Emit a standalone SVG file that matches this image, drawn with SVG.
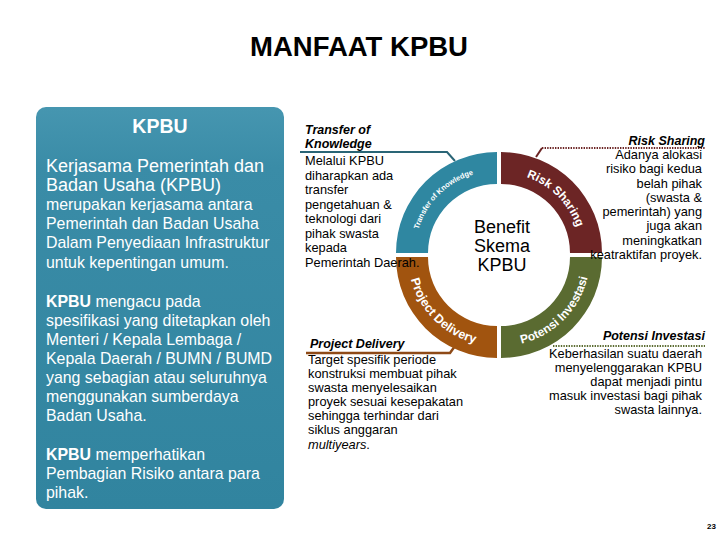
<svg xmlns="http://www.w3.org/2000/svg" width="720" height="540" viewBox="0 0 720 540">
<defs>
<linearGradient id="panelGrad" x1="0" y1="0" x2="0" y2="1">
<stop offset="0" stop-color="#4696B0"/>
<stop offset="0.15" stop-color="#3A8CA7"/>
<stop offset="1" stop-color="#31849F"/>
</linearGradient>
<path id="arcTeal" d="M 417 255 A 82 82 0 0 1 499 173"/>
<path id="arcRed" d="M 499 175 A 80 80 0 0 1 579 255"/>
<path id="arcBrown" d="M 410 255 A 89 89 0 0 0 499 344"/>
<path id="arcGreen" d="M 499 344 A 89 89 0 0 0 588 255"/>
</defs>
<style>
.title{font-family:"Liberation Sans",Arial,sans-serif;font-weight:bold;font-size:27.5px;fill:#000}
.pnl{font-family:"Liberation Sans",Arial,sans-serif;fill:#fff}
.pnlH{font-size:18px}
.pnlB{font-size:15.9px}
.b{font-weight:bold}
.hdr{font-family:"Liberation Sans",Arial,sans-serif;font-weight:bold;font-style:italic;font-size:12.5px;fill:#000}
.body{font-family:"Liberation Sans",Arial,sans-serif;font-size:12.8px;fill:#000}
.ctr{font-family:"Liberation Sans",Arial,sans-serif;font-size:18px;fill:#000;text-anchor:middle}
.seg{font-family:"Liberation Sans",Arial,sans-serif;font-weight:bold;fill:#fff}
.r{text-anchor:end}
</style>
<rect width="720" height="540" fill="#fff"/>

<text class="title" x="359" y="56" text-anchor="middle">MANFAAT KPBU</text>

<g id="panel-kpbu">
<rect x="36" y="107" width="248" height="402" rx="10" fill="url(#panelGrad)"/>
<text class="pnl b" x="160" y="133" font-size="19.5" text-anchor="middle">KPBU</text>
<text class="pnl pnlH" x="46" y="172">Kerjasama Pemerintah dan</text>
<text class="pnl pnlH" x="46" y="191">Badan Usaha (KPBU)</text>
<text class="pnl pnlB" x="46" y="210">merupakan kerjasama antara</text>
<text class="pnl pnlB" x="46" y="229">Pemerintah dan Badan Usaha</text>
<text class="pnl pnlB" x="46" y="248">Dalam Penyediaan Infrastruktur</text>
<text class="pnl pnlB" x="46" y="268">untuk kepentingan umum.</text>
<text class="pnl pnlB" x="46" y="307"><tspan class="b">KPBU</tspan> mengacu pada</text>
<text class="pnl pnlB" x="46" y="326">spesifikasi yang ditetapkan oleh</text>
<text class="pnl pnlB" x="46" y="345">Menteri / Kepala Lembaga /</text>
<text class="pnl pnlB" x="46" y="364">Kepala Daerah / BUMN / BUMD</text>
<text class="pnl pnlB" x="46" y="383">yang sebagian atau seluruhnya</text>
<text class="pnl pnlB" x="46" y="402">menggunakan sumberdaya</text>
<text class="pnl pnlB" x="46" y="421">Badan Usaha.</text>
<text class="pnl pnlB" x="46" y="460"><tspan class="b">KPBU</tspan> memperhatikan</text>
<text class="pnl pnlB" x="46" y="479">Pembagian Risiko antara para</text>
<text class="pnl pnlB" x="46" y="498">pihak.</text>
</g>

<g id="connectors" fill="none">
<polyline points="300,152 447,152 455,161" stroke="#2A6576" stroke-width="2"/>
<line x1="542" y1="148" x2="705" y2="148" stroke="#6B2424" stroke-width="2.2" stroke-dasharray="1.4,1.2"/>
<line x1="542" y1="148" x2="536" y2="157" stroke="#6B2424" stroke-width="2"/>
<polyline points="306,353 450,353 455,346" stroke="#8E4A17" stroke-width="2.5"/>
<line x1="553" y1="346" x2="705" y2="346" stroke="#5B6B30" stroke-width="2.2" stroke-dasharray="1.4,1.2"/>
</g>

<g id="seg-transfer" transform="translate(-2,-2)">
<path d="M 398 255 A 101 101 0 0 1 499 154 L 499 186 A 69 69 0 0 0 430 255 Z" fill="#2F87A1"/>
<text class="seg" font-size="7.5"><textPath href="#arcTeal" startOffset="50%" text-anchor="middle">Transfer of Knowledge</textPath></text>
</g>
<g id="seg-risk" transform="translate(2,-2)">
<path d="M 499 154 A 101 101 0 0 1 600 255 L 568 255 A 69 69 0 0 0 499 186 Z" fill="#6C2525"/>
<text class="seg" font-size="12"><textPath href="#arcRed" startOffset="50%" text-anchor="middle">Risk Sharing</textPath></text>
</g>
<g id="seg-project" transform="translate(-2,2)">
<path d="M 398 255 A 101 101 0 0 0 499 356 L 499 324 A 69 69 0 0 1 430 255 Z" fill="#A1540F"/>
<text class="seg" font-size="12.5"><textPath href="#arcBrown" startOffset="50%" text-anchor="middle">Project Delivery</textPath></text>
</g>
<g id="seg-potensi" transform="translate(2,2)">
<path d="M 499 356 A 101 101 0 0 0 600 255 L 568 255 A 69 69 0 0 1 499 324 Z" fill="#5A6B31"/>
<text class="seg" font-size="12"><textPath href="#arcGreen" startOffset="50%" text-anchor="middle">Potensi Investasi</textPath></text>
</g>

<g id="center-label">
<text class="ctr" x="502" y="233">Benefit</text>
<text class="ctr" x="502" y="252">Skema</text>
<text class="ctr" x="502" y="271">KPBU</text>
</g>

<g id="node-transfer">
<text class="hdr" x="305" y="134">Transfer of</text>
<text class="hdr" x="305" y="148">Knowledge</text>
<text class="body" x="305" y="165">Melalui KPBU</text>
<text class="body" x="305" y="180">diharapkan ada</text>
<text class="body" x="305" y="194">transfer</text>
<text class="body" x="305" y="209">pengetahuan &amp;</text>
<text class="body" x="305" y="223">teknologi dari</text>
<text class="body" x="305" y="238">pihak swasta</text>
<text class="body" x="305" y="252">kepada</text>
<text class="body" x="305" y="267">Pemerintah Daerah.</text>
</g>

<g id="node-risk">
<text class="hdr r" x="705" y="145">Risk Sharing</text>
<text class="body r" x="702" y="159">Adanya alokasi</text>
<text class="body r" x="702" y="173">risiko bagi kedua</text>
<text class="body r" x="702" y="188">belah pihak</text>
<text class="body r" x="702" y="202">(swasta &amp;</text>
<text class="body r" x="702" y="216">pemerintah) yang</text>
<text class="body r" x="702" y="230">juga akan</text>
<text class="body r" x="702" y="245">meningkatkan</text>
<text class="body r" x="702" y="259">keatraktifan proyek.</text>
</g>

<g id="node-project">
<text class="hdr" x="310" y="348">Project Delivery</text>
<text class="body" x="308" y="364">Target spesifik periode</text>
<text class="body" x="308" y="378">konstruksi membuat pihak</text>
<text class="body" x="308" y="392">swasta menyelesaikan</text>
<text class="body" x="308" y="406">proyek sesuai kesepakatan</text>
<text class="body" x="308" y="420">sehingga terhindar dari</text>
<text class="body" x="308" y="434">siklus anggaran</text>
<text class="body" x="308" y="449" font-style="italic">multiyears<tspan font-style="normal">.</tspan></text>
</g>

<g id="node-potensi">
<text class="hdr r" x="705" y="340">Potensi Investasi</text>
<text class="body r" x="702" y="358">Keberhasilan suatu daerah</text>
<text class="body r" x="702" y="372">menyelenggarakan KPBU</text>
<text class="body r" x="702" y="386">dapat menjadi pintu</text>
<text class="body r" x="702" y="400">masuk investasi bagi pihak</text>
<text class="body r" x="702" y="414">swasta lainnya.</text>
</g>

<text x="716" y="529" font-family="Liberation Sans, Arial, sans-serif" font-size="8" font-weight="bold" text-anchor="end" fill="#000">23</text>
</svg>
